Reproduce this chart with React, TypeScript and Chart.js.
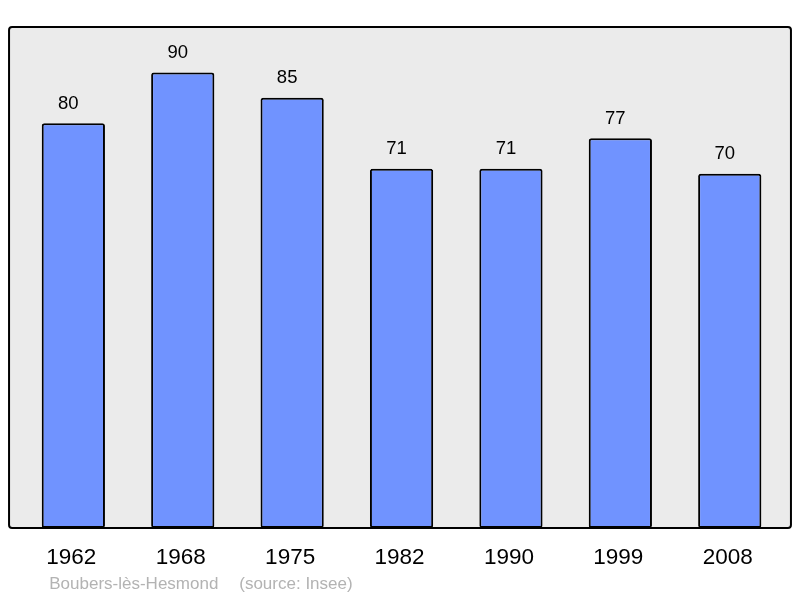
import React, { useEffect, useRef } from "react";
import { Chart, registerables } from "chart.js";

Chart.register(...registerables);

const years = ["1962", "1968", "1975", "1982", "1990", "1999", "2008"];
const population = [80, 90, 85, 71, 71, 77, 70];
const yMax = 99;
const placeName = "Boubers-lès-Hesmond";
const sourceText = "(source: Insee)";

const FONT = "'Liberation Sans', Arial, sans-serif";

const framePlugin = {
  id: "frame",
  beforeDraw(chart: any) {
    const { ctx, chartArea } = chart;
    const l = chartArea.left - 9.6;
    const r = chartArea.right + 6.5;
    const t = chartArea.top;
    const b = chartArea.bottom;
    ctx.save();
    ctx.beginPath();
    if (ctx.roundRect) ctx.roundRect(l, t, r - l, b - t, 3);
    else ctx.rect(l, t, r - l, b - t);
    ctx.fillStyle = "#ebebeb";
    ctx.fill();
    ctx.restore();
  },
  afterDatasetsDraw(chart: any) {
    const { ctx, chartArea } = chart;
    const l = chartArea.left - 9.6;
    const r = chartArea.right + 6.5;
    const t = chartArea.top;
    const b = chartArea.bottom;
    ctx.save();
    ctx.beginPath();
    if (ctx.roundRect) ctx.roundRect(l, t, r - l, b - t, 3);
    else ctx.rect(l, t, r - l, b - t);
    ctx.lineWidth = 2;
    ctx.strokeStyle = "#000";
    ctx.stroke();

    // value labels
    const meta = chart.getDatasetMeta(0);
    ctx.fillStyle = "#000";
    ctx.font = `18.5px ${FONT}`;
    ctx.textAlign = "center";
    ctx.textBaseline = "alphabetic";
    meta.data.forEach((bar: any, i: number) => {
      ctx.fillText(String(population[i]), bar.x - 5, bar.y - 14.5);
    });

    // footer
    ctx.fillStyle = "#b3b3b3";
    ctx.font = `17px ${FONT}`;
    ctx.textAlign = "left";
    ctx.fillText(placeName, chartArea.left + 30.6, b + 61);
    ctx.fillText(sourceText, chartArea.left + 220.6, b + 61);
    ctx.restore();
  },
};

export default function App() {
  const ref = useRef<HTMLCanvasElement>(null);
  useEffect(() => {
    if (!ref.current) return;
    const chart = new Chart(ref.current, {
      type: "bar",
      data: {
        labels: years,
        datasets: [
          {
            data: population,
            backgroundColor: "#7093ff",
            borderColor: "#000",
            borderWidth: 2,
            borderRadius: 2.5,
            borderSkipped: false,
            barPercentage: 0.578,
            categoryPercentage: 1,
          },
        ],
      },
      plugins: [framePlugin],
      options: {
        animation: false,
        responsive: false,
        maintainAspectRatio: false,
        layout: { padding: { left: 18.65, right: 15.55, top: 27, bottom: 0 } },
        plugins: {
          legend: { display: false },
          tooltip: { enabled: false },
          title: { display: false },
        },
        scales: {
          y: { display: false, min: 0, max: yMax },
          x: {
            offset: true,
            grid: { display: false, drawTicks: false },
            border: { display: false },
            ticks: {
              color: "#000",
              font: { family: FONT, size: 22.5 },
              padding: 16,
              labelOffset: -2,
              maxRotation: 0,
            },
            afterFit: (scale: any) => {
              scale.height = 70;
            },
          },
        },
      },
    });
    return () => chart.destroy();
  }, []);
  return (
    <div style={{ position: "fixed", left: 0, top: 0, width: 800, height: 598, background: "#fff" }}>
      <canvas ref={ref} width={800} height={598} style={{ width: 800, height: 598 }} />
    </div>
  );
}
